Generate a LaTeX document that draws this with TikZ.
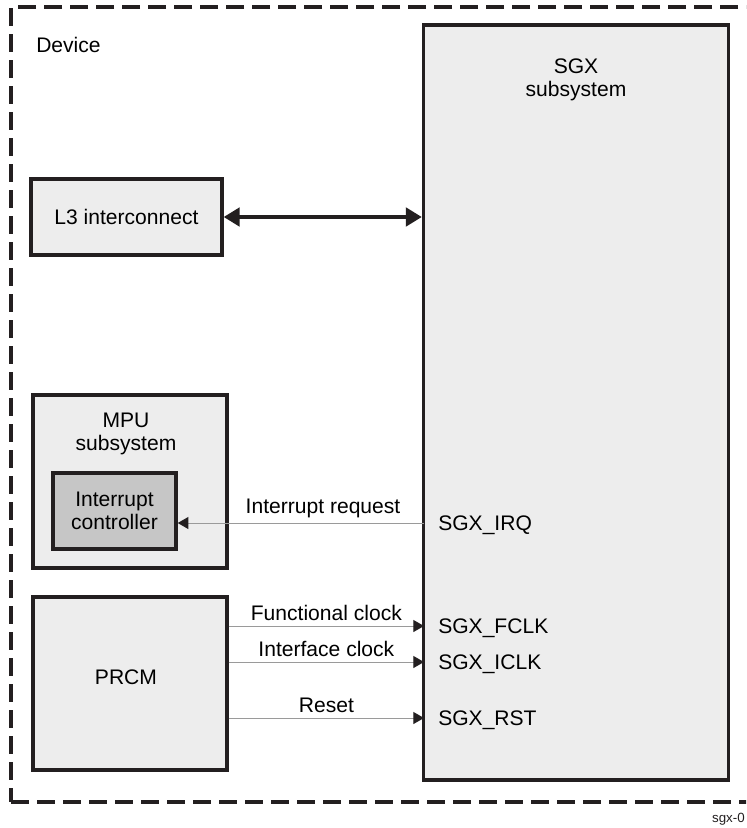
\documentclass[tikz,border=0pt]{standalone}
\usepackage{fontspec}
\setmainfont{Liberation Sans}
\usetikzlibrary{arrows.meta, positioning, calc}
\definecolor{cline}{HTML}{231F20}
\definecolor{cbox}{HTML}{EDEDED}
\definecolor{cinner}{HTML}{C6C6C6}
\definecolor{csig}{HTML}{9A9A9A}
\tikzset{
  every picture/.style={font=\fontsize{15.8}{17.5}\selectfont},
  block/.style={draw=cline, fill=#1, line width=2.6pt, align=center, inner sep=0pt},
  block/.default=cbox,
  devicebox/.style={draw=cline, line width=2.3pt, dash pattern=on 13.5pt off 6pt},
  bus/.style={{Triangle[length=12pt,width=14pt]}-{Triangle[length=12pt,width=14pt]}, draw=cline, line width=2.4pt},
  sig/.style={-{Triangle[length=8pt,width=9pt,color=cline]}, draw=csig, line width=0.75pt},
  pinlabel/.style={inner sep=0pt, text height=11.4pt, text depth=0pt},
  note/.style={font=\fontsize{10}{12}\selectfont, text=cline},
}

\begin{document}
\begin{tikzpicture}[x=0.75pt, y=-0.75pt]
  \useasboundingbox (0,0) rectangle (746,828);
  \clip (0,0) rectangle (746,828);
  % device frame, its right side runs off the page
  \node[devicebox, minimum width=569.25pt, minimum height=596.25pt] (device) at (390.5,404.5) {};
  \node[anchor=west, inner sep=0pt] (devlabel) at (36,45) {Device};

  \node[block, minimum width=228.75pt, minimum height=566.25pt] (sgx) at (576,402.5) {};
  \node[align=center] (sgxlabel) at (576,80) {SGX\\subsystem};

  \node[block, minimum width=143.25pt, minimum height=57pt] (lthree) at (126.5,217) {L3 interconnect};
  \node[block, minimum width=145.5pt, minimum height=129.75pt] (mpu) at (130,481.5) {};
  \node[align=center] (mpulabel) at (126,434) {MPU\\subsystem};
  \node[block=cinner, minimum width=92.25pt, minimum height=57pt] (intc) at (114.5,511) {Interrupt\\controller};
  \node[block, minimum width=145.5pt, minimum height=129.75pt] (prcm) at (130,683.5) {};
  \node (prcmlabel) at (126,677) {PRCM};

  % pins on the SGX side
  \coordinate (pirq) at (424,523);
  \coordinate (pfclk) at (424,626);
  \coordinate (piclk) at (424,662);
  \coordinate (prst) at (424,718);
  \node[pinlabel, right=10.5pt of pirq] (irq) {SGX\_IRQ};
  \node[pinlabel, right=10.5pt of pfclk] (fclk) {SGX\_FCLK};
  \node[pinlabel, right=10.5pt of piclk] (iclk) {SGX\_ICLK};
  \node[pinlabel, right=10.5pt of prst] (rst) {SGX\_RST};

  \draw[bus] (lthree.east) -- (sgx.west |- lthree.east);
  \draw[sig] (pirq) -- node[pos=0.41, above] {Interrupt request} (intc.east |- pirq);
  \draw[sig] (prcm.east |- pfclk) -- node[above] {Functional clock} (pfclk);
  \draw[sig] (prcm.east |- piclk) -- node[above] {Interface clock} (piclk);
  \draw[sig] (prcm.east |- prst) -- node[above] {Reset} (prst);

  \node[note, anchor=east, inner sep=0pt] (figid) at (745,819) {sgx-0};
\end{tikzpicture}
\end{document}
